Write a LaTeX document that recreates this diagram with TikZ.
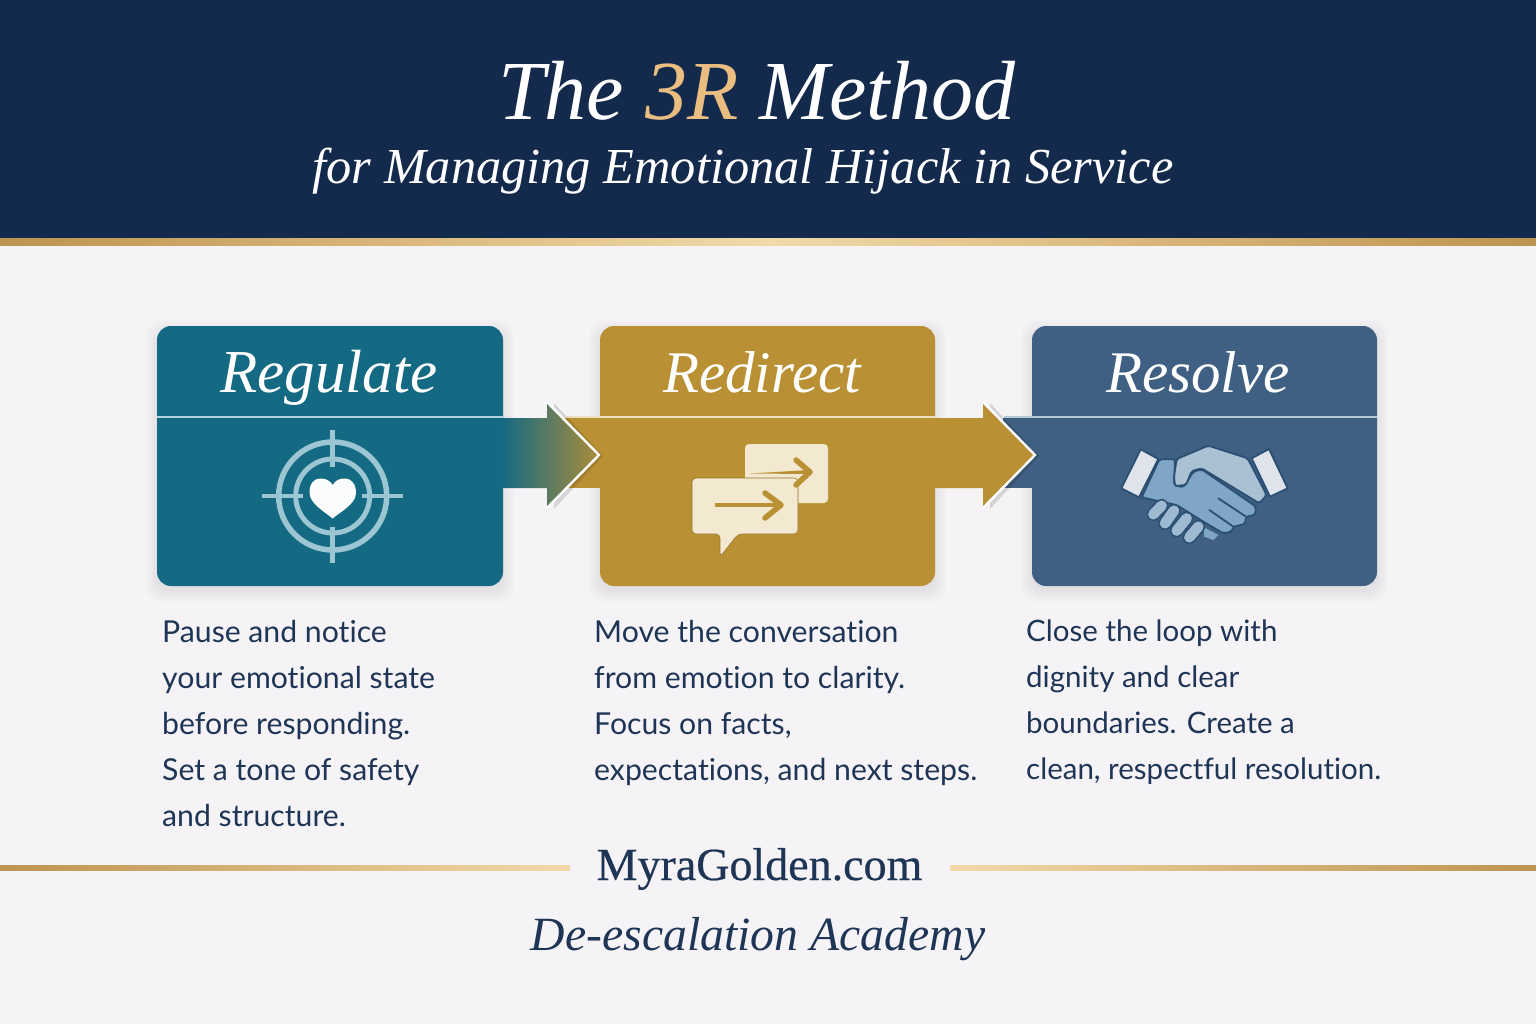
\documentclass[tikz,border=0pt]{standalone}
\usepackage{fontspec}
\setmainfont{Liberation Serif}
\newfontfamily\bodyf[Ligatures=NoCommon]{Lato}
\newfontfamily\sitef[FakeBold=0.5]{Liberation Serif}
\usetikzlibrary{calc}
\definecolor{navy}{HTML}{182F55}
\definecolor{navyd}{HTML}{142A4D}
\definecolor{paper}{HTML}{F5F3F6}
\definecolor{goldd}{HTML}{BD944F}
\definecolor{goldl}{HTML}{F2D9A8}
\definecolor{titlegold}{HTML}{E9BE80}
\definecolor{teal}{HTML}{146A82}
\definecolor{mustard}{HTML}{BA9034}
\definecolor{slateb}{HTML}{3F6083}
\definecolor{ink}{HTML}{1F3556}
\definecolor{ring}{HTML}{9DC6D4}
\definecolor{cream}{HTML}{F3E8D0}
\definecolor{handd}{HTML}{2A4F73}
\definecolor{handa}{HTML}{AAC1D4}
\definecolor{handb}{HTML}{7FA6C6}
\definecolor{handc}{HTML}{9DBAD0}
\definecolor{cuff}{HTML}{DFE4EA}
\tikzset{
  card/.style={rectangle,rounded corners=14pt,minimum height=260pt,inner sep=0pt,outer sep=0pt},
  cardtitle/.style={text=white,font=\fontsize{59}{60}\selectfont\itshape,inner sep=0pt,anchor=base},
  bodytext/.style={text=ink,font=\bodyf\fontsize{30.2}{46}\selectfont,align=left,anchor=north west,inner sep=0pt},
  goldrule/.style={left color=goldd,right color=goldl},
  ringline/.style={draw=ring,line width=5.5pt},
  crossline/.style={draw=ring,line width=4.5pt},
  msgarrow/.style={draw=mustard,line width=4.5pt,line join=round},
}
\newcommand\softshadow[2]{%
  \foreach \g in {11,9,7,5,3,1}{%
    \fill[black,opacity=.011,rounded corners=16pt] ($(#1)+(-\g,-\g+5)$) rectangle ($(#2)+(\g,\g+5)$);}%
}
\newcommand\bandarrow[6]{%
  \coordinate (tip) at ($(#2.west)+(#6,-1)$);
  \coordinate (tail) at (#1.east |- tip);
  \fill[black,opacity=.13] ($(tip)+(-44,-52)$) -- ($(tip)+(5,1)$) -- ($(tip)+(-44,54)$) -- cycle;
  \shade[left color=#3,middle color=#4,right color=#5]
    ($(tail)+(-1,-37)$) -- ($(tip)+(-51,-37)$) -- ($(tip)+(-51,-52)$) -- (tip)
    -- ($(tip)+(-51,52)$) -- ($(tip)+(-51,33)$) -- ($(tail)+(-1,33)$) -- cycle;
  \draw[white,line width=2.4pt,line join=miter] ($(tip)+(-51,-53)$) -- ($(tip)+(1,0)$) -- ($(tip)+(-51,53)$);
}
\begin{document}
\begin{tikzpicture}[x=1pt,y=-1pt]
\useasboundingbox (0,0) rectangle (1536,1024);
\fill[paper] (0,0) rectangle (1536,1024);
% header
\shade[left color=navyd,middle color=navy,right color=navyd] (0,0) rectangle (1536,239);
\shade[goldrule] (0,239) rectangle (768,246);
\shade[left color=goldl,right color=goldd] (768,239) rectangle (1536,246);
\node[text=white,font=\fontsize{84}{86}\selectfont\itshape,inner sep=0pt] (title) at (757,91)
  {The \textcolor{titlegold}{3R} Method};
\node[text=white,font=\fontsize{50.4}{52}\selectfont\itshape,inner sep=0pt] (subtitle) at (743,171)
  {for Managing Emotional Hijack in Service};
% card shadows
\softshadow{157,326}{503,586}
\softshadow{600,326}{935,586}
\softshadow{1032,326}{1377,586}
% cards
\node[card,fill=teal,minimum width=346pt] (reg) at (330,456) {};
\node[card,fill=mustard,minimum width=335pt] (red) at (767.5,456) {};
\node[card,fill=slateb,minimum width=345pt] (res) at (1204.5,456) {};
% tabs that run from each card towards the arrow head
\fill[mustard] (565,418) rectangle (601,488);
\fill[slateb] (1003,418) rectangle (1033,488);
% dividers
\draw[draw=ring!80!white,line width=2pt] ($(reg.north west)+(0,91)$) -- ($(reg.north east)+(0,91)$);
\draw[draw=cream!90!mustard,line width=2pt] (566,417) -- ($(red.north east)+(0,91)$);
\draw[draw=handa!85!white,line width=2pt] (1004,417) -- ($(res.north east)+(0,91)$);
% arrows
\bandarrow{reg}{red}{teal}{teal!72!mustard!85!black}{mustard!90!teal}{-2}
\bandarrow{red}{res}{mustard}{mustard}{mustard}{2}
% card titles
\node[cardtitle,font=\fontsize{61}{62}\selectfont\itshape] (t1) at (329,392) {Regulate};
\node[cardtitle] (t2) at (762,392) {Redirect};
\node[cardtitle] (t3) at (1198,392) {Resolve};
% target icon
\draw[ringline] (332.7,496) circle (54);
\draw[ringline,line width=5pt] (332.7,496) circle (37);
\draw[crossline] (262,496) -- (303,496);
\draw[crossline] (362,496) -- (403,496);
\draw[crossline] (332.7,430) -- (332.7,467);
\draw[crossline] (332.7,527) -- (332.7,563);
\fill[white!96!ring] (332.7,485) .. controls (328,476) and (309,474) .. (309.5,493)
  .. controls (310,504) and (325,512) .. (332.7,518.5)
  .. controls (340,512) and (356,504) .. (356,493)
  .. controls (356,474) and (337,476) .. (332.7,485) -- cycle;
% chat icon
\fill[cream,rounded corners=4pt] (745,444) rectangle (828,503);
\draw[mustard!80!black,line width=.6pt,rounded corners=4pt,fill=cream]
  (692,478) -- (798,478) -- (798,534) -- (738,534) -- (720,557) -- (720,534) -- (692,534) -- cycle;
\draw[msgarrow] (715,505) -- (779,505);
\draw[msgarrow,line width=5.5pt,line cap=round] (765,493) -- (781,505) -- (765,518);
\fill[mustard] (750,473.5) -- (809,470) -- (809,474) -- cycle;
\draw[msgarrow,line width=5.5pt,line cap=round] (796,460) -- (810,472) -- (796,485);
% handshake icon
\begin{scope}[shift={(950,390)},scale=1/3]
  \draw[handd,line width=1.8pt,fill=cuff,line join=round] (572,178) -- (625,207) -- (567,322) -- (514,295) -- cycle;
  \draw[handd,line width=1.8pt,fill=cuff,line join=round] (905,205) -- (957,177) -- (1013,295) -- (960,320) -- cycle;
  \draw[handd,line width=1.8pt,fill=handb,line join=round,rounded corners=2pt]
    (628,208) -- (675,208) -- (672,285) -- (700,292) -- (730,245) -- (755,238) -- (918,350) -- (915,375)
    -- (888,380) -- (885,402) -- (850,410) -- (845,425) -- (820,430) -- (760,395) -- (680,345) -- (610,330)
    -- (575,322) -- cycle;
  \draw[handd,line width=1.8pt,fill=handa,line join=round,rounded corners=2pt]
    (680,207) -- (775,167) -- (893,205) -- (950,315) -- (928,340) -- (755,235) -- (725,243)
    -- (708,285) -- (675,288) -- (672,260) -- cycle;
  \fill[handb] (762,412) -- (805,435) -- (790,450) -- (762,440) -- cycle;
  \draw[handd,line width=1.8pt,line cap=round] (805,325) -- (888,380);
  \draw[handd,line width=1.8pt,line cap=round] (778,360) -- (850,410);
  \foreach \a/\b/\c/\d in {635/347/610/373,672/362/645/400,710/385/680/422,745/410/718/442}{
    \draw[handd,line width=13.5pt,line cap=round] (\a,\b) -- (\c,\d);
    \draw[handc,line width=10.5pt,line cap=round] (\a,\b) -- (\c,\d);
  }
\end{scope}
% body text
\node[bodytext] (b1) at (162,620) {Pause and notice\\your emotional state\\before responding.\\Set a tone of safety\\and structure.};
\node[bodytext] (b2) at (594,620) {Move the conversation\\from emotion to clarity.\\Focus on facts,\\expectations, and next steps.};
\node[bodytext,font=\bodyf\fontsize{29.5}{46}\selectfont] (b3) at (1026,620) {Close the loop with\\dignity and clear\\boundaries. Create a\\clean, respectful resolution.};
% footer
\node[text=ink,font=\sitef\fontsize{46}{48}\selectfont,inner sep=0pt] (site) at (759.5,869) {MyraGolden.com};
\node[text=ink,font=\fontsize{47.7}{50}\selectfont\itshape,inner sep=0pt] (academy) at (758,939) {De-escalation Academy};
\coordinate (fl) at (0,868);
\coordinate (fr) at (1536,868);
\coordinate (flend) at (570,868);
\coordinate (frend) at (950,868);
\shade[left color=goldd,right color=goldl] ($(fl)+(0,-2.5)$) rectangle ($(flend)+(0,2.5)$);
\shade[left color=goldl,right color=goldd] ($(frend)+(0,-2.5)$) rectangle ($(fr)+(0,2.5)$);
\end{tikzpicture}
\end{document}
